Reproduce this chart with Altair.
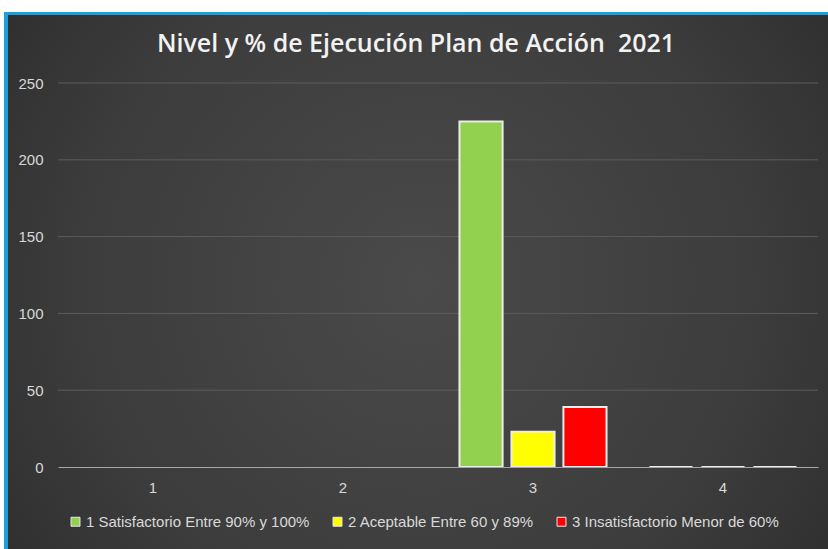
import altair as alt
import pandas as pd

categories = ["1", "2", "3", "4"]
series = [
    "1 Satisfactorio Entre 90% y 100%",
    "2 Aceptable Entre 60 y 89%",
    "3 Insatisfactorio Menor de 60%",
]
satisfactorio = [None, None, 225, 0]
aceptable = [None, None, 23, 0]
insatisfactorio = [None, None, 39, 0]
colors = ["#92d050", "#ffff00", "#ff0000"]
y_ticks = [0, 50, 100, 150, 200, 250]
grid_values = [50, 100, 150, 200, 250]
title_text = ["Nivel y % de Ejecución Plan de Acción\u00a0 2021"]

rows = []
for s, vals in zip(series, [satisfactorio, aceptable, insatisfactorio]):
    for c, v in zip(categories, vals):
        if v is not None:
            rows.append({"cat": c, "serie": s, "valor": v})
df = pd.DataFrame(rows)

W, H = 760, 384
PL, PT, PR, PB = 58, 83, 10, 82

yscale = alt.Scale(domain=[0, 250], nice=False)
yaxis = alt.Axis(title=None, values=y_ticks, ticks=False, domain=False,
                 grid=False, labelPadding=15, zindex=1)

frame_data = pd.DataFrame({"k": [0]})
blue = alt.Chart(frame_data).mark_rect(fill="#17a2dc").encode(
    x=alt.value(-54), x2=alt.value(W + PR + 5),
    y=alt.value(-71), y2=alt.value(H + PB + 5),
)
dark = alt.Chart(frame_data).mark_rect(
    fill=alt.RadialGradient(
        gradient="radial",
        stops=[alt.GradientStop(color="#4a4a4a", offset=0),
               alt.GradientStop(color="#3c3c3c", offset=0.55),
               alt.GradientStop(color="#262626", offset=1)],
        x1=0.5, y1=0.5, x2=0.5, y2=0.5, r1=0, r2=0.75,
    )
).encode(
    x=alt.value(-50), x2=alt.value(W + PR + 5),
    y=alt.value(-68), y2=alt.value(H + PB + 5),
)

title = alt.Chart(pd.DataFrame({"t": title_text})).mark_text(
    font="Open Sans", fontSize=25, fontWeight=600, color="#f2f2f2",
    align="center", baseline="middle"
).encode(text="t:N", x=alt.value(W / 2 - 22), y=alt.value(-39))

grid = alt.Chart(pd.DataFrame({"v": grid_values})).mark_rule(
    color="#5c5c5c", strokeWidth=1
).encode(y=alt.Y("v:Q", scale=yscale, axis=yaxis))

bars = alt.Chart(df).mark_bar(stroke="#ececec", strokeWidth=2).encode(
    x=alt.X("cat:N", scale=alt.Scale(domain=categories, paddingInner=0.226, paddingOuter=0.113),
            axis=alt.Axis(title=None, labelAngle=0, ticks=False, domain=True,
                          domainColor="#a6a6a6", domainWidth=1.2, labelPadding=13,
                          grid=False, zindex=1)),
    xOffset=alt.XOffset("serie:N", scale=alt.Scale(domain=series, paddingInner=0.17, paddingOuter=0)),
    y=alt.Y("valor:Q", scale=yscale, axis=yaxis),
    color=alt.Color("serie:N", scale=alt.Scale(domain=series, range=colors),
                    legend=alt.Legend(title=None, orient="none", direction="horizontal",
                                      legendX=10, legendY=431, symbolType="square",
                                      symbolSize=80, symbolStrokeColor="#e8e8e8",
                                      symbolStrokeWidth=1, labelColor="#d9d9d9",
                                      labelFontSize=15, labelFont="Liberation Sans",
                                      labelLimit=400, columnPadding=20, labelOffset=3)),
)

chart = alt.layer(blue, dark, title, grid, bars).properties(
    width=W, height=H,
    autosize=alt.AutoSizeParams(type="none"),
    padding={"left": PL, "top": PT, "right": PR, "bottom": PB},
    background="white",
).configure_view(stroke=None).configure_axis(
    labelColor="#d9d9d9", labelFontSize=15, labelFont="Liberation Sans"
)

chart.save("out.html", embed_options={"renderer": "svg", "actions": False})
